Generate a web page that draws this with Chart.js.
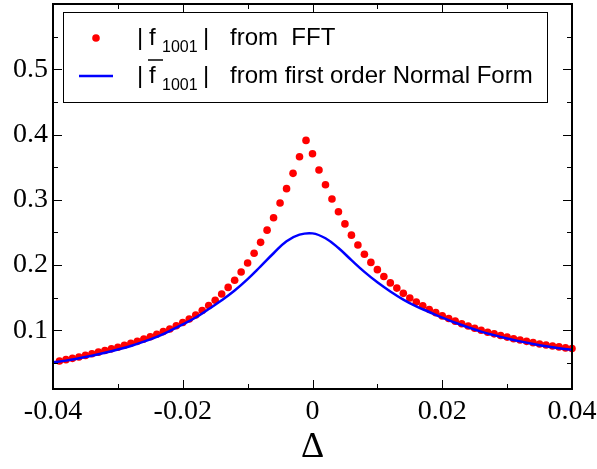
<!DOCTYPE html>
<html>
<head>
<meta charset="utf-8">
<script src="https://cdn.jsdelivr.net/npm/chart.js@4.4.0/dist/chart.umd.min.js"></script>
<style>
  html, body { margin: 0; padding: 0; background: #fff; }
</style>
</head>
<body>
<canvas id="chart" width="597" height="469"></canvas>
<script>
// |f1001| from FFT (points) and from first order Normal Form (line), vs Delta

const deltaFFT = [
  -0.039,-0.038,-0.037,-0.036,-0.035,-0.034,-0.033,-0.032,-0.031,-0.030,
  -0.029,-0.028,-0.027,-0.026,-0.025,-0.024,-0.023,-0.022,-0.021,-0.020,
  -0.019,-0.018,-0.017,-0.016,-0.015,-0.014,-0.013,-0.012,-0.011,-0.010,
  -0.009,-0.008,-0.007,-0.006,-0.005,-0.004,-0.003,-0.002,-0.001, 0.000,
   0.001, 0.002, 0.003, 0.004, 0.005, 0.006, 0.007, 0.008, 0.009, 0.010,
   0.011, 0.012, 0.013, 0.014, 0.015, 0.016, 0.017, 0.018, 0.019, 0.020,
   0.021, 0.022, 0.023, 0.024, 0.025, 0.026, 0.027, 0.028, 0.029, 0.030,
   0.031, 0.032, 0.033, 0.034, 0.035, 0.036, 0.037, 0.038, 0.039, 0.040
];
const f1001FFT = [
  0.053, 0.055, 0.057, 0.059, 0.0615,0.064, 0.0665,0.069, 0.0715,0.074,
  0.077, 0.080, 0.083, 0.0865,0.090, 0.094, 0.098, 0.102, 0.107, 0.112,
  0.1173,0.1233,0.1303,0.1378,0.146, 0.1555,0.1657,0.1767,0.1893,0.203,
  0.218, 0.2347,0.2534,0.2725,0.295, 0.317, 0.3405,0.366, 0.391, 0.3704,
  0.3457,0.323, 0.3012,0.2816,0.263, 0.2458,0.2307,0.2165,0.204, 0.1929,
  0.1823,0.1726,0.1646,0.1566,0.1495,0.1434,0.1374,0.1318,0.127, 0.122,
  0.118, 0.114, 0.110, 0.1065,0.103, 0.100, 0.097, 0.0945,0.092, 0.0895,
  0.087, 0.085, 0.083, 0.081, 0.079, 0.0775,0.076, 0.0745,0.073, 0.072
];

const deltaNF = [
  -0.040,-0.038,-0.036,-0.034,-0.032,-0.030,-0.028,-0.026,-0.024,-0.022,
  -0.020,-0.018,-0.016,-0.014,-0.012,-0.010,-0.008,-0.006,-0.004,-0.002,
   0.000, 0.002, 0.004, 0.006, 0.008, 0.010, 0.012, 0.014, 0.016, 0.018,
   0.020, 0.022, 0.024, 0.026, 0.028, 0.030, 0.032, 0.034, 0.036, 0.038,
   0.040
];
const f1001NF = [
  0.051, 0.0535,0.0570,0.0610,0.0655,0.0705,0.0760,0.0825,0.0900,0.0990,
  0.109, 0.1195,0.1325,0.1460,0.1610,0.1785,0.198, 0.218, 0.2365,0.2465,
  0.2485,0.241, 0.226, 0.2075,0.1895,0.1735,0.1595,0.147, 0.1365,0.128,
  0.1195,0.1115,0.1045,0.0980,0.0925,0.0875,0.0830,0.0790,0.0755,0.0725,
  0.0700
];

const xTicks = [-0.04, -0.02, 0, 0.02, 0.04];
const xMinor = [-0.03, -0.01, 0.01, 0.03];
const yTicks = [0.1, 0.2, 0.3, 0.4, 0.5];
const yMinor = [0.05, 0.15, 0.25, 0.35, 0.45, 0.55];

const fmt = v => String(Number(v.toFixed(3)));
const serif = 'Liberation Serif, Times New Roman, serif';
const sans = 'Liberation Sans, Arial, sans-serif';

// frame with inward ticks on all four sides (xmgrace look)
const framePlugin = {
  id: 'frame',
  afterDatasetsDraw(chart) {
    const { ctx, chartArea: a, scales: { x, y } } = chart;
    ctx.save();
    ctx.strokeStyle = '#000';
    ctx.lineWidth = 1;
    const tick = (px, len, vertical) => {
      ctx.beginPath();
      if (vertical) {
        ctx.moveTo(px, a.bottom); ctx.lineTo(px, a.bottom - len);
        ctx.moveTo(px, a.top); ctx.lineTo(px, a.top + len);
      } else {
        ctx.moveTo(a.left, px); ctx.lineTo(a.left + len, px);
        ctx.moveTo(a.right, px); ctx.lineTo(a.right - len, px);
      }
      ctx.stroke();
    };
    xTicks.forEach(v => tick(Math.round(x.getPixelForValue(v)) + 0.5, 9, true));
    xMinor.forEach(v => tick(Math.round(x.getPixelForValue(v)) + 0.5, 5, true));
    yTicks.forEach(v => tick(Math.round(y.getPixelForValue(v)) + 0.5, 9, false));
    yMinor.forEach(v => tick(Math.round(y.getPixelForValue(v)) + 0.5, 5, false));
    ctx.lineWidth = 2;
    ctx.strokeRect(a.left, a.top, a.right - a.left, a.bottom - a.top);
    ctx.restore();
  }
};

// legend box drawn by hand: subscripts and the overline need it
const legendPlugin = {
  id: 'mathLegend',
  afterDraw(chart) {
    const ctx = chart.ctx;
    ctx.save();
    ctx.fillStyle = '#fff';
    ctx.fillRect(63, 12, 484, 90);
    ctx.strokeStyle = '#000';
    ctx.lineWidth = 1;
    ctx.strokeRect(63.5, 12.5, 484, 90);

    ctx.fillStyle = '#ff0000';
    ctx.beginPath(); ctx.arc(96, 38, 3.8, 0, Math.PI * 2); ctx.fill();
    ctx.strokeStyle = '#0000ff';
    ctx.lineWidth = 2.5;
    ctx.beginPath(); ctx.moveTo(79, 76); ctx.lineTo(113, 76); ctx.stroke();

    ctx.fillStyle = '#000';
    ctx.textBaseline = 'alphabetic';
    const row = (base, text) => {
      ctx.font = '24px ' + sans;
      ctx.fillText('|', 137, base);
      ctx.fillText('f', 149, base);
      ctx.font = '16px ' + sans;
      ctx.fillText('1001', 162, base + 7);
      ctx.font = '24px ' + sans;
      ctx.fillText('|', 203, base);
      ctx.fillText(text, 230, base);
    };
    row(45, 'from  FFT');
    row(83, 'from first order Normal Form');
    ctx.strokeStyle = '#000';
    ctx.lineWidth = 1.5;
    ctx.beginPath(); ctx.moveTo(148, 60); ctx.lineTo(163, 60); ctx.stroke();
    ctx.restore();
  }
};

new Chart(document.getElementById('chart'), {
  type: 'scatter',
  data: {
    datasets: [
      {
        label: '|f1001| from FFT',
        data: deltaFFT.map((d, i) => ({ x: d, y: f1001FFT[i] })),
        pointRadius: 3.8,
        pointBackgroundColor: '#ff0000',
        pointBorderWidth: 0,
        showLine: false,
        order: 1,
        clip: 6
      },
      {
        label: '|f1001| from first order Normal Form',
        data: deltaNF.map((d, i) => ({ x: d, y: f1001NF[i] })),
        showLine: true,
        borderColor: '#0000ff',
        borderWidth: 2.5,
        pointRadius: 0,
        tension: 0.4,
        order: 0
      }
    ]
  },
  options: {
    responsive: false,
    animation: false,
    layout: { padding: { top: 1, right: 25, left: 0, bottom: 0 } },
    plugins: { legend: { display: false }, tooltip: { enabled: false } },
    scales: {
      x: {
        type: 'linear', min: -0.04, max: 0.04,
        grid: { display: false, drawTicks: false },
        border: { display: false },
        afterBuildTicks: s => { s.ticks = xTicks.map(v => ({ value: v })); },
        afterFit: s => { s.height = 80; s.paddingLeft = 0; s.paddingRight = 0; },
        ticks: { color: '#000', font: { family: serif, size: 28 }, padding: 6,
                 maxRotation: 0, autoSkip: false, callback: v => fmt(v) },
        title: { display: true, text: 'Δ', color: '#000',
                 font: { family: serif, size: 36 }, padding: { top: 0, bottom: 0 } }
      },
      y: {
        type: 'linear', min: 0.01, max: 0.6,
        grid: { display: false, drawTicks: false },
        border: { display: false },
        afterBuildTicks: s => { s.ticks = yTicks.map(v => ({ value: v })); },
        afterFit: s => { s.width = 53; s.paddingTop = 0; s.paddingBottom = 0; },
        ticks: { color: '#000', font: { family: serif, size: 28 }, padding: 5,
                 autoSkip: false, callback: v => fmt(v) }
      }
    }
  },
  plugins: [framePlugin, legendPlugin]
});
</script>
</body>
</html>
